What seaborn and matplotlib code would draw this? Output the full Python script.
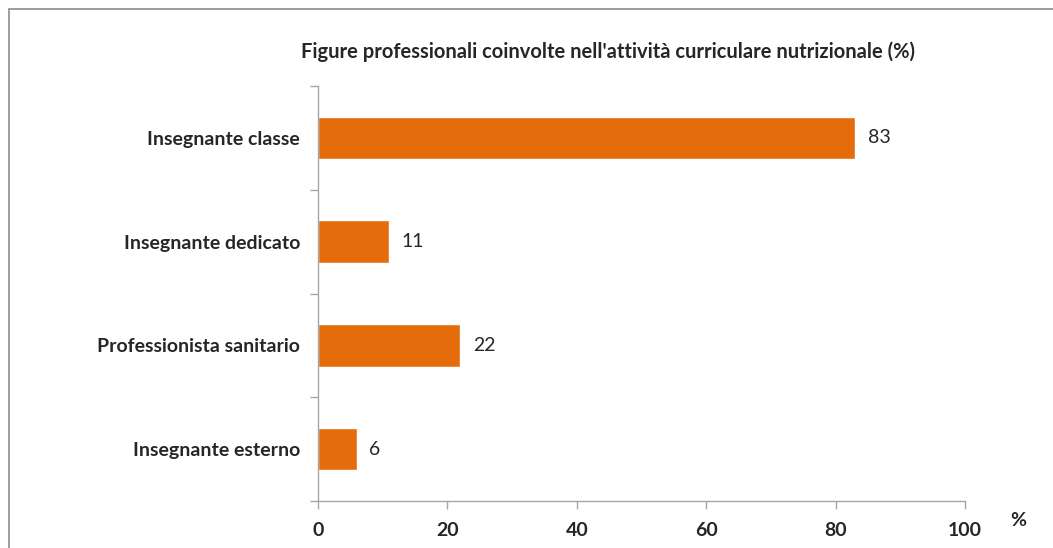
import pandas as pd
import numpy as np
import seaborn as sns
import matplotlib.pyplot as plt
from matplotlib.patches import Rectangle

# Data
categories = ["Insegnante classe", "Insegnante dedicato",
              "Professionista sanitario", "Insegnante esterno"]
values = [83, 11, 22, 6]
x_ticks = [0, 20, 40, 60, 80, 100]

df = pd.DataFrame({"Figura": categories, "Percentuale": values})

sns.set_style("white")
plt.rcParams['font.family'] = ['Lato', 'DejaVu Sans']

fig = plt.figure(figsize=(10.53, 5.48), dpi=100)
ax = fig.add_axes([318 / 1053, 1 - 501 / 548, (965 - 318) / 1053, (501 - 86) / 548])

sns.barplot(data=df, x="Percentuale", y="Figura", orient="h",
            color="#E46C0A", saturation=1, width=0.41, ax=ax)

ax.set_xlim(0, 100)
ax.set_ylim(3.5, -0.5)
ax.set_xticks(x_ticks)
ax.set_xticklabels([str(t) for t in x_ticks], fontsize=14, fontweight='bold')
ax.set_yticks(range(len(categories)))
ax.set_yticklabels(categories, fontsize=14, fontweight='bold')
ax.set_yticks(np.arange(-0.5, len(categories)), minor=True)
ax.tick_params(axis='y', which='major', left=True, length=0, pad=13)
ax.tick_params(axis='y', which='minor', left=True, length=6, color='#a6a6a6',
               width=1, direction='out')
ax.tick_params(axis='x', bottom=True, length=6, color='#a6a6a6', width=1,
               direction='out', pad=9)
ax.set_xlabel("")
ax.set_ylabel("")

for s in ['top', 'right']:
    ax.spines[s].set_visible(False)
for s in ['left', 'bottom']:
    ax.spines[s].set_color('#a6a6a6')
    ax.spines[s].set_linewidth(1)

for p, v in zip(ax.patches, values):
    ax.annotate(str(v), (p.get_width(), p.get_y() + p.get_height() / 2),
                xytext=(9, 0), textcoords='offset points',
                ha='left', va='center', fontsize=14)

fig.text(608 / 1053, 1 - 52 / 548,
         "Figure professionali coinvolte nell'attività curriculare nutrizionale (%)",
         ha='center', va='center', fontsize=14.5, fontweight='bold')
fig.text(1018 / 1053, 1 - 521 / 548, "%", ha='center', va='center',
         fontsize=14, fontweight='bold')

# outer frame like the original chart area
fig.patches.append(Rectangle((9 / 1053, -0.05), 1.1, 1 - 9 / 548 + 0.05,
                             transform=fig.transFigure, fill=False,
                             edgecolor='#8c8c8c', linewidth=1.2))

fig.savefig("out.png", dpi=100)
